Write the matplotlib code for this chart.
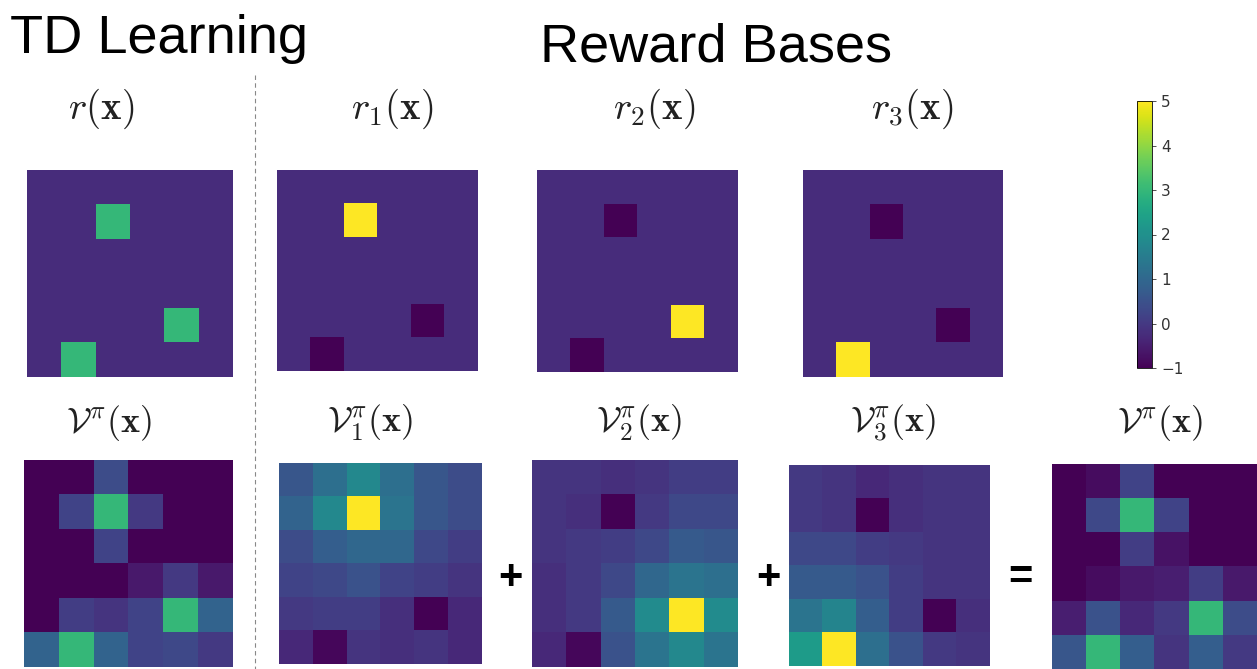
import numpy as np
import matplotlib.pyplot as plt
from matplotlib import colors
from matplotlib.cm import ScalarMappable
from matplotlib.lines import Line2D

plt.rcParams['mathtext.fontset'] = 'cm'

W, H = 1257, 669
VMIN, VMAX = -1, 5

# reward maps on the 6x6 grid (b = empty-cell level)
b = -0.25
r_td = [[b, b, b, b, b, b],
        [b, b, 3, b, b, b],
        [b, b, b, b, b, b],
        [b, b, b, b, b, b],
        [b, b, b, b, 3, b],
        [b, 3, b, b, b, b]]
r_1 = [[b, b, b, b, b, b],
       [b, b, 5, b, b, b],
       [b, b, b, b, b, b],
       [b, b, b, b, b, b],
       [b, b, b, b, -1, b],
       [b, -1, b, b, b, b]]
r_2 = [[b, b, b, b, b, b],
       [b, b, -1, b, b, b],
       [b, b, b, b, b, b],
       [b, b, b, b, b, b],
       [b, b, b, b, 5, b],
       [b, -1, b, b, b, b]]
r_3 = [[b, b, b, b, b, b],
       [b, b, -1, b, b, b],
       [b, b, b, b, b, b],
       [b, b, b, b, b, b],
       [b, b, b, b, -1, b],
       [b, 5, b, b, b, b]]

# learned value maps
v_td = [[-1.0, -1.0, 0.4, -1.0, -1.0, -1.0],
        [-1.0, 0.2, 3.0, 0.0, -1.0, -1.0],
        [-1.0, -1.0, 0.2, -1.0, -1.0, -1.0],
        [-1.0, -1.0, -1.0, -0.6, 0.0, -0.6],
        [-1.0, 0.1, -0.1, 0.2, 3.0, 0.9],
        [0.9, 3.0, 0.9, 0.2, 0.3, 0.0]]
v_1 = [[0.6, 1.2, 1.8, 1.2, 0.6, 0.4],
       [0.9, 1.8, 5.0, 1.3, 0.6, 0.4],
       [0.4, 0.8, 1.0, 1.0, 0.3, 0.1],
       [0.2, 0.3, 0.5, 0.2, 0.1, -0.1],
       [0.0, 0.1, 0.1, -0.2, -1.0, -0.3],
       [-0.3, -0.9, -0.1, -0.2, -0.1, -0.3]]
v_2 = [[-0.1, -0.1, -0.2, -0.1, 0.1, 0.1],
       [-0.1, -0.2, -1.0, 0.0, 0.3, 0.3],
       [-0.1, 0.0, 0.1, 0.3, 0.7, 0.6],
       [-0.2, 0.0, 0.3, 1.0, 1.3, 1.2],
       [-0.2, 0.0, 0.7, 1.9, 5.0, 1.9],
       [-0.3, -0.9, 0.5, 1.3, 1.8, 1.3]]
v_3 = [[0.0, -0.1, -0.3, -0.2, -0.1, -0.1],
       [0.0, -0.1, -1.0, -0.2, -0.1, -0.1],
       [0.3, 0.3, 0.1, 0.0, -0.1, -0.1],
       [0.7, 0.7, 0.5, 0.1, -0.1, -0.1],
       [1.3, 1.7, 0.8, 0.1, -1.0, -0.2],
       [2.3, 5.0, 1.2, 0.5, 0.0, -0.1]]
v_sum = [[-1.0, -0.8, 0.2, -1.0, -1.0, -1.0],
         [-1.0, 0.3, 3.0, 0.2, -1.0, -1.0],
         [-1.0, -1.0, 0.1, -0.7, -1.0, -1.0],
         [-1.0, -0.8, -0.6, -0.5, 0.1, -0.6],
         [-0.5, 0.5, -0.3, 0.0, 3.0, 0.4],
         [0.6, 3.0, 0.8, -0.1, 0.8, 0.0]]

fig = plt.figure(figsize=(W / 100, H / 100), dpi=100)


def px_axes(x0, y0, x1, y1):
    return fig.add_axes([x0 / W, 1 - y1 / H, (x1 - x0) / W, (y1 - y0) / H])


def panel(data, box):
    ax = px_axes(*box)
    ax.imshow(np.array(data), cmap='viridis', vmin=VMIN, vmax=VMAX,
              aspect='auto', interpolation='nearest')
    ax.axis('off')
    return ax


def label(x, y, s, **kw):
    fig.text(x / W, 1 - y / H, s, ha='center', va='center', **kw)


# top row: rewards
panel(r_td, (27, 170, 233, 377))
panel(r_1, (277, 170, 478, 371))
panel(r_2, (537, 170, 738, 372))
panel(r_3, (803, 170, 1003, 377))

# bottom row: values
panel(v_td, (24, 460, 233, 667))
panel(v_1, (279, 463, 482, 664))
panel(v_2, (532, 460, 738, 667))
panel(v_3, (789, 465, 990, 666))
panel(v_sum, (1052, 464, 1257, 669))

# colorbar
cax = px_axes(1137, 101, 1152, 368)
cb = fig.colorbar(ScalarMappable(colors.Normalize(VMIN, VMAX), cmap='viridis'),
                  cax=cax, ticks=range(VMIN, VMAX + 1))
cb.ax.tick_params(labelsize=11, length=3, width=0.6, colors='#333333')
cb.outline.set_linewidth(0.6)

# headings
fig.text(10 / W, 1 - 53 / H, 'TD Learning', fontsize=39,
         family='Liberation Sans', va='baseline', ha='left')
fig.text(540 / W, 1 - 61 / H, 'Reward Bases', fontsize=39,
         family='Liberation Sans', va='baseline', ha='left')

# separator
fig.add_artist(Line2D([255 / W, 255 / W], [1 - 75 / H, 0], transform=fig.transFigure,
                      ls=(0, (4, 3)), lw=0.8, color='#888888'))

top = dict(fontsize=28, color='#222222')
label(101, 109, r'$r(\mathbf{x})$', **top)
label(392, 109, r'$r_1(\mathbf{x})$', **top)
label(654, 109, r'$r_2(\mathbf{x})$', **top)
label(912, 109, r'$r_3(\mathbf{x})$', **top)

bot = dict(fontsize=26, color='#222222')
label(109, 423, r'$\mathcal{V}^{\pi}(\mathbf{x})$', **bot)
label(370, 423, r'$\mathcal{V}^{\pi}_1(\mathbf{x})$', **bot)
label(639, 423, r'$\mathcal{V}^{\pi}_2(\mathbf{x})$', **bot)
label(893, 423, r'$\mathcal{V}^{\pi}_3(\mathbf{x})$', **bot)
label(1160, 423, r'$\mathcal{V}^{\pi}(\mathbf{x})$', **bot)

ops = dict(fontsize=30, fontweight='bold', family='Liberation Sans')
label(510, 578, '+', **ops)
label(768, 578, '+', **ops)
label(1020, 578, '=', **ops)

fig.savefig('out.png', dpi=100)
